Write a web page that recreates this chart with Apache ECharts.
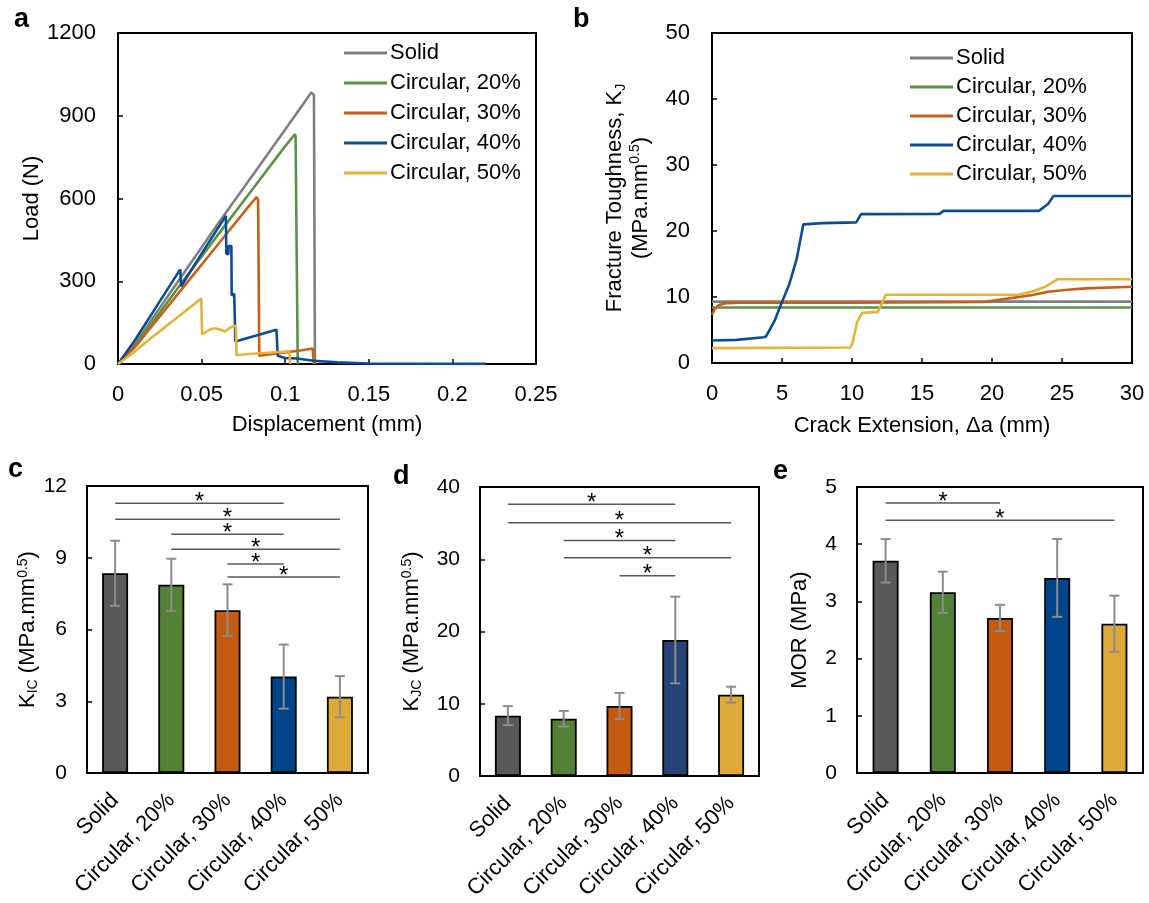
<!DOCTYPE html>
<html>
<head>
<meta charset="utf-8">
<script src="https://cdn.jsdelivr.net/npm/echarts@6/dist/echarts.min.js"></script>
<style>
html,body{margin:0;padding:0;background:#fff;}
#chart{width:1149px;height:903px;}
</style>
</head>
<body>
<div id="chart"></div>
<script>
// ---------- DATA ----------
const seriesNames = ['Solid', 'Circular, 20%', 'Circular, 30%', 'Circular, 40%', 'Circular, 50%'];
const categories = ['Solid', 'Circular, 20%', 'Circular, 30%', 'Circular, 40%', 'Circular, 50%'];

// Panel a: Load (N) vs Displacement (mm)
const solidA = [[0,0],[0.01,70],[0.02,160],[0.04,335],[0.06,510],[0.08,680],[0.1,850],[0.113,962],[0.1156,985],[0.1172,975],[0.1178,0]];
const circ20A = [[0,0],[0.01,65],[0.02,145],[0.04,310],[0.06,470],[0.08,630],[0.1,790],[0.1058,833],[0.1062,825],[0.1075,0]];
const circ30A = [[0,0],[0.01,60],[0.02,135],[0.04,285],[0.06,435],[0.08,585],[0.0829,605],[0.0838,595],[0.0845,30],[0.09,35],[0.1,42],[0.11,50],[0.1164,56],[0.1172,0]];
const circ40A = [[0,0],[0.01,85],[0.02,180],[0.0372,343],[0.0378,282],[0.05,400],[0.0645,537],[0.0648,400],[0.066,398],[0.0662,428],[0.0678,428],[0.068,248],[0.0695,255],[0.0702,82],[0.0948,124],[0.0955,30],[0.1,22],[0.107,20],[0.117,12],[0.131,6],[0.15,2],[0.22,0.5]];
const circ50A = [[0,0],[0.01,45],[0.02,95],[0.04,190],[0.0498,237],[0.0503,107],[0.055,125],[0.058,130],[0.061,125],[0.064,118],[0.067,132],[0.0705,139],[0.0709,32],[0.08,37],[0.09,41],[0.1,45],[0.1025,47],[0.103,0]];

// Panel b: Fracture toughness K_J vs crack extension (mm)
const solidB = [[0,9.3],[30,9.3]];
const circ20B = [[0,8.4],[30,8.4]];
const circ30B = [[0,7.3],[0.2,8.2],[0.5,8.8],[1,9.05],[2,9.12],[10,9.15],[19.4,9.25],[20.6,9.6],[22.9,10.3],[24,10.8],[25.4,11.1],[26.7,11.3],[30,11.55]];
const circ40B = [[0,3.4],[1.75,3.5],[3.7,3.9],[3.85,4.0],[4.45,6.3],[4.97,9.1],[5.5,11.8],[6.04,15.7],[6.52,21.0],[7.9,21.2],[10.3,21.3],[10.65,22.55],[16.25,22.6],[16.55,23.05],[23.35,23.05],[24.0,24.1],[24.4,25.3],[30,25.3]];
const circ50B = [[0,2.25],[9.9,2.35],[10.07,3.3],[10.35,6.1],[10.72,7.6],[11.85,7.75],[12.15,9.1],[12.4,10.35],[21.9,10.35],[23,10.9],[23.85,11.6],[24.7,12.7],[30,12.7]];

// Panel c: K_IC
const kicMean = [8.35, 7.87, 6.81, 4.03, 3.19];
const kicErr = [1.36, 1.09, 1.08, 1.34, 0.86];
const kicSig = [[0,3,11.28],[0,4,10.61],[1,3,9.98],[1,4,9.36],[2,3,8.74],[2,4,8.19]];
// Panel d: K_JC
const kjcMean = [8.35, 7.93, 9.69, 18.82, 11.26];
const kjcErr = [1.32, 1.08, 1.8, 6.0, 1.1];
const kjcSig = [[0,3,37.6],[0,4,35.05],[1,3,32.6],[1,4,30.2],[2,3,27.7]];
// Panel e: MOR
const morMean = [3.71, 3.16, 2.71, 3.41, 2.61];
const morErr = [0.38, 0.36, 0.23, 0.68, 0.49];
const morSig = [[0,2,4.72],[0,4,4.42]];

// ---------- STYLE ----------
const FONT = 'Liberation Sans, Arial, sans-serif';
const lineColors = ['#7F7F7F', '#5A9440', '#CB5E16', '#0B4C96', '#E5B23A'];
const barColorsCE = ['#595959', '#538135', '#C55A11', '#00448A', '#DDAA38'];
const barColorsD = ['#595959', '#538135', '#C55A11', '#264478', '#DDAA38'];

const chart = echarts.init(document.getElementById('chart'), null, {renderer: 'canvas'});

const axisLineStyle = {show: true, lineStyle: {color: '#000', width: 2}};
const tickStyle = {show: true, inside: true, length: 5, lineStyle: {color: '#000', width: 1.5}};

function valueAxis(grid, min, max, interval, name, nameGap, fontSize, margin, extra) {
  return Object.assign({
    type: 'value', gridIndex: grid, min: min, max: max, interval: interval,
    axisLine: axisLineStyle, axisTick: tickStyle, splitLine: {show: false},
    axisLabel: {color: '#000', fontSize: fontSize, fontFamily: FONT, margin: margin, formatter: v => String(v)},
    name: name, nameLocation: 'middle', nameGap: nameGap,
    nameTextStyle: {color: '#000', fontSize: 22, fontFamily: FONT}
  }, extra || {});
}
function catAxis(grid) {
  return {
    type: 'category', gridIndex: grid, data: categories,
    axisLine: axisLineStyle, axisTick: {show: false}, splitLine: {show: false},
    axisLabel: {color: '#000', fontSize: 22, fontFamily: FONT, rotate: 45, interval: 0, margin: 24}
  };
}
const richName = {
  sub: {fontSize: 14, fontFamily: FONT, color: '#000', verticalAlign: 'bottom', lineHeight: 14},
  sup: {fontSize: 14, fontFamily: FONT, color: '#000', verticalAlign: 'top', lineHeight: 14}
};

function errRender(params, api) {
  const x = api.value(0), lo = api.value(1), hi = api.value(2);
  const p1 = api.coord([x, hi]), p2 = api.coord([x, lo]);
  const w = 5;
  const st = {stroke: '#8C8C8C', lineWidth: 2};
  return {type: 'group', children: [
    {type: 'line', shape: {x1: p1[0], y1: p1[1], x2: p2[0], y2: p2[1]}, style: st},
    {type: 'line', shape: {x1: p1[0]-w, y1: p1[1], x2: p1[0]+w, y2: p1[1]}, style: st},
    {type: 'line', shape: {x1: p2[0]-w, y1: p2[1], x2: p2[0]+w, y2: p2[1]}, style: st}
  ]};
}
function sigRender(params, api) {
  const a = api.coord([api.value(0), api.value(2)]);
  const b = api.coord([api.value(1), api.value(2)]);
  return {type: 'group', children: [
    {type: 'line', shape: {x1: a[0], y1: a[1], x2: b[0], y2: b[1]}, style: {stroke: '#595959', lineWidth: 1.5}},
    {type: 'text', x: (a[0]+b[0])/2, y: a[1] - 1, style: {text: '*', fontSize: 24, fontFamily: FONT, fill: '#000', align: 'center', verticalAlign: 'middle'}}
  ]};
}

function lineSeries(name, data, idx, color) {
  return {type: 'line', name: name, data: data, xAxisIndex: idx, yAxisIndex: idx,
    showSymbol: false, symbol: 'none', lineStyle: {color: color, width: 2.6}, itemStyle: {color: color},
    animation: false, z: 3};
}
function barSet(idx, means, errs, sigs, colors) {
  return [
    {type: 'bar', name: 'bar' + idx, xAxisIndex: idx, yAxisIndex: idx, barWidth: 26,
      data: means.map((v, i) => ({value: v, itemStyle: {color: colors[i]}})),
      itemStyle: {borderColor: '#000', borderWidth: 1.8}, animation: false, z: 2},
    {type: 'custom', name: 'err' + idx, xAxisIndex: idx, yAxisIndex: idx, renderItem: errRender,
      data: means.map((v, i) => [i, v - errs[i], v + errs[i]]), encode: {x: 0, y: [1, 2]}, animation: false, z: 5},
    {type: 'custom', name: 'sig' + idx, xAxisIndex: idx, yAxisIndex: idx, renderItem: sigRender,
      data: sigs, encode: {x: [0, 1], y: 2}, animation: false, z: 5}
  ];
}

const seriesA = [solidA, circ20A, circ30A, circ40A, circ50A];
const seriesB = [solidB, circ20B, circ30B, circ40B, circ50B];

const option = {
  backgroundColor: '#fff',
  animation: false,
  textStyle: {fontFamily: FONT},
  grid: [
    {left: 118, top: 33, width: 418, height: 331, show: true, borderColor: '#000', borderWidth: 2},
    {left: 712, top: 33, width: 420, height: 330, show: true, borderColor: '#000', borderWidth: 2},
    {left: 87, top: 486, width: 281, height: 287, show: true, borderColor: '#000', borderWidth: 2},
    {left: 480, top: 487, width: 279, height: 289, show: true, borderColor: '#000', borderWidth: 2},
    {left: 857, top: 487, width: 286, height: 286, show: true, borderColor: '#000', borderWidth: 2}
  ],
  xAxis: [
    valueAxis(0, 0, 0.25, 0.05, 'Displacement (mm)', 50, 22, 20),
    valueAxis(1, 0, 30, 5, 'Crack Extension, Δa (mm)', 52, 22, 20),
    catAxis(2), catAxis(3), catAxis(4)
  ],
  yAxis: [
    valueAxis(0, 0, 1200, 300, 'Load (N)', 54, 22, 22),
    valueAxis(1, 0, 50, 10, 'Fracture Toughness, K{sub|J}\n(MPa.mm{sup|0.5})', 58, 22, 22,
      {nameTextStyle: {color: '#000', fontSize: 22, fontFamily: FONT, lineHeight: 26, rich: richName}}),
    valueAxis(2, 0, 12, 3, 'K{sub|IC} (MPa.mm{sup|0.5})', 37, 21, 20,
      {nameTextStyle: {color: '#000', fontSize: 22, fontFamily: FONT, lineHeight: 24, rich: richName}}),
    valueAxis(3, 0, 40, 10, 'K{sub|JC} (MPa.mm{sup|0.5})', 56, 21, 20,
      {nameTextStyle: {color: '#000', fontSize: 22, fontFamily: FONT, lineHeight: 24, rich: richName}}),
    valueAxis(4, 0, 5, 1, 'MOR (MPa)', 46, 21, 20)
  ],
  legend: [
    {data: seriesNames, orient: 'vertical', left: 339, top: 37, icon: 'rect', itemWidth: 43, itemHeight: 3, itemGap: 8,
      textStyle: {color: '#000', fontSize: 22, fontFamily: FONT, lineHeight: 22, padding: [0, 0, 0, -2]}, selectedMode: false},
    {data: seriesNames, orient: 'vertical', left: 905, top: 42, icon: 'rect', itemWidth: 43, itemHeight: 3, itemGap: 7,
      textStyle: {color: '#000', fontSize: 22, fontFamily: FONT, lineHeight: 22, padding: [0, 0, 0, -2]}, selectedMode: false}
  ],
  graphic: [
    {type: 'text', left: 14, top: 6, style: {text: 'a', fontSize: 27, fontWeight: 'bold', fontFamily: FONT, fill: '#000'}},
    {type: 'text', left: 573, top: 6, style: {text: 'b', fontSize: 27, fontWeight: 'bold', fontFamily: FONT, fill: '#000'}},
    {type: 'text', left: 8, top: 456, style: {text: 'c', fontSize: 27, fontWeight: 'bold', fontFamily: FONT, fill: '#000'}},
    {type: 'text', left: 393, top: 463, style: {text: 'd', fontSize: 27, fontWeight: 'bold', fontFamily: FONT, fill: '#000'}},
    {type: 'text', left: 773, top: 458, style: {text: 'e', fontSize: 27, fontWeight: 'bold', fontFamily: FONT, fill: '#000'}}
  ],
  series: [].concat(
    seriesA.map((d, i) => lineSeries(seriesNames[i], d, 0, lineColors[i])),
    seriesB.map((d, i) => lineSeries(seriesNames[i], d, 1, lineColors[i])),
    barSet(2, kicMean, kicErr, kicSig, barColorsCE),
    barSet(3, kjcMean, kjcErr, kjcSig, barColorsD),
    barSet(4, morMean, morErr, morSig, barColorsCE)
  )
};
chart.setOption(option);
</script>
</body>
</html>
